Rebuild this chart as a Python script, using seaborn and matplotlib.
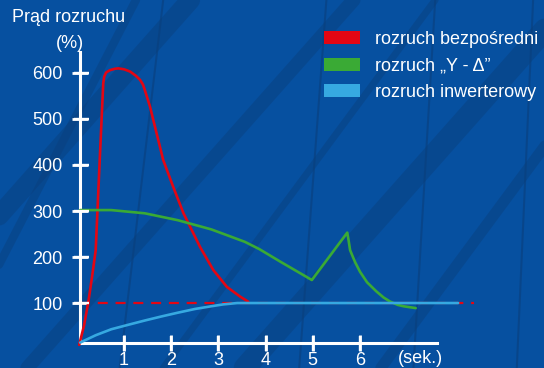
import numpy as np
import pandas as pd
import seaborn as sns
from matplotlib import pyplot as plt
from matplotlib.patches import Patch
from matplotlib.lines import Line2D

# curves (time in s, current in %)
direct_t = [0.05, 0.15, 0.24, 0.32, 0.40, 0.48, 0.56, 0.58, 0.62, 0.70, 0.80, 0.88, 1.00,
            1.13, 1.25, 1.34, 1.40, 1.44, 1.55, 1.69, 1.83, 2.04, 2.26, 2.40, 2.61,
            2.89, 3.18, 3.46, 3.63]
direct_i = [9, 50, 100, 155, 215, 400, 578, 592, 601, 606, 609, 610, 608,
            603, 594, 585, 575, 563, 527, 469, 411, 353, 295, 266, 222,
            172, 135, 114, 103]

stardelta_t = [0.07, 0.73, 1.44, 2.14, 2.85, 3.56, 3.87, 4.31, 4.98, 5.73, 5.76, 5.79,
               5.85, 5.90, 6.00, 6.15, 6.35, 6.50, 6.64, 6.80, 6.92, 7.05, 7.18]
stardelta_i = [302, 302, 295, 280, 260, 233, 217, 190, 150, 253, 235, 215,
               200, 188, 168, 145, 125, 112, 103, 96, 93, 91, 89]

inverter_t = [0.07, 0.40, 0.73, 1.10, 1.44, 1.80, 2.14, 2.50, 2.85, 3.10, 3.40, 3.80, 8.08]
inverter_i = [14, 30, 43, 53, 62, 71, 79, 87, 93, 97, 100, 100, 100]

nominal_t = [0.07, 8.41]
nominal_i = [100, 100]

labels = ['rozruch bezpośredni', 'rozruch \u201eY - \u0394\u201d', 'rozruch inwerterowy']
colors = ['#e30613', '#3aaa35', '#36a9e1']
y_ticks = [100, 200, 300, 400, 500, 600]
x_ticks = [1, 2, 3, 4, 5, 6]

BG = '#0650a0'

sns.set_theme(style='ticks')
plt.rcParams['font.family'] = ['Liberation Sans', 'DejaVu Sans']

fig = plt.figure(figsize=(5.44, 3.68), dpi=100, facecolor=BG)

# darker diagonal bands of the background
for x0, x1, w in [(-0.25, 0.35, 14), (0.05, 0.65, 10), (0.45, 1.05, 16), (0.70, 1.20, 8),
                  (-0.10, 0.25, 6), (0.30, 0.80, 5)]:
    fig.add_artist(Line2D([x0, x1], [0, 1], transform=fig.transFigure,
                          color='#0a3f7c', alpha=0.45, lw=w, zorder=-1))
for x0, x1 in [(0.22, 0.30), (0.55, 0.60), (0.76, 0.80), (0.95, 0.98)]:
    fig.add_artist(Line2D([x0, x1], [0, 1], transform=fig.transFigure,
                          color='#0a3f7c', alpha=0.6, lw=1.5, zorder=-1))

# axes box = the white axis lines (x 0.065..7.64 s, y 14..646 %)
ax = fig.add_axes([79.9 / 544, (368 - 342.6) / 368, 357.5 / 544, 290.8 / 368])
ax.set_facecolor('none')

df = pd.concat([
    pd.DataFrame({'t': direct_t, 'i': direct_i, 'kind': labels[0]}),
    pd.DataFrame({'t': stardelta_t, 'i': stardelta_i, 'kind': labels[1]}),
    pd.DataFrame({'t': inverter_t, 'i': inverter_i, 'kind': labels[2]}),
])

ax.plot(nominal_t, nominal_i, color=colors[0], lw=1.6, dashes=(4.5, 3.5), zorder=2)
sns.lineplot(data=df, x='t', y='i', hue='kind', palette=colors, sort=False,
             estimator=None, lw=1.9, legend=False, ax=ax, zorder=3)
# dashed 100% line and inverter curve run past the end of the time axis
for line in ax.lines:
    line.set_clip_on(False)

ax.set_xlim(0.065, 7.64)
ax.set_ylim(14, 646)
for s in ['top', 'right']:
    ax.spines[s].set_visible(False)
for s in ['left', 'bottom']:
    ax.spines[s].set_color('white')
    ax.spines[s].set_linewidth(2.2)

ax.set_xticks(x_ticks)
ax.set_yticks(y_ticks)
ax.set_xlabel('')
ax.set_ylabel('')
ax.tick_params(axis='both', bottom=True, left=True, direction='inout', length=11, width=2,
               color='white', labelcolor='white', labelsize=13)
ax.tick_params(axis='y', pad=7)
ax.tick_params(axis='x', pad=1)

# white tick marks crossing the axis lines, placed through the axis transforms
ax.vlines(x_ticks, -0.03, 0.024, transform=ax.get_xaxis_transform(), colors='white',
          lw=1.7, clip_on=False, zorder=5)
ax.hlines(y_ticks, -0.017, 0.025, transform=ax.get_yaxis_transform(), colors='white',
          lw=1.7, clip_on=False, zorder=5)

ax.text(7.27, -20, '(sek.)', color='white', fontsize=13, ha='center', va='center',
        clip_on=False)
fig.text(69 / 544, 1 - 17 / 368, 'Prąd rozruchu', color='white', fontsize=13,
         ha='center', va='center')
fig.text(70 / 544, 1 - 43 / 368, '(%)', color='white', fontsize=13,
         ha='center', va='center')

handles = [Patch(facecolor=c, edgecolor='none') for c in colors]
leg = fig.legend(handles, labels, loc='upper left', bbox_to_anchor=(324 / 544, 1 - 31 / 368),
                 frameon=False, fontsize=13, handlelength=2.0, handleheight=0.72,
                 handletextpad=0.85, labelspacing=0.52, borderpad=0, borderaxespad=0)
for t in leg.get_texts():
    t.set_color('white')

fig.savefig('out.png', dpi=100, facecolor=BG)
